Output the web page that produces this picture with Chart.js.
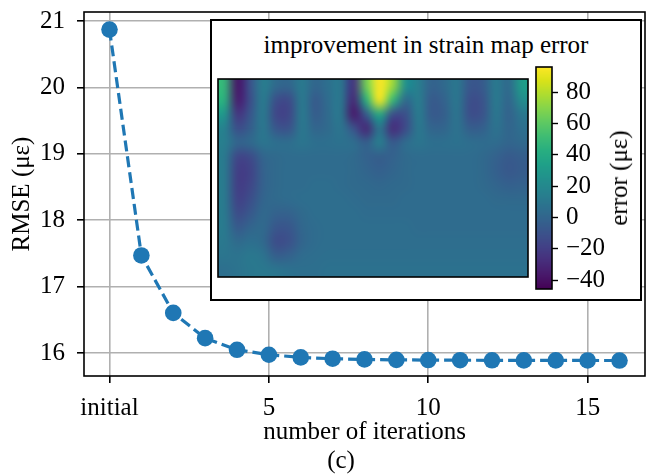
<!DOCTYPE html>
<html>
<head>
<meta charset="utf-8">
<script src="https://cdn.jsdelivr.net/npm/chart.js@4/dist/chart.umd.min.js"></script>
<style>
  html, body { margin: 0; padding: 0; background: #fff; }
  #fig { position: relative; width: 654px; height: 474px; overflow: hidden;
         font-family: 'Liberation Serif', 'Times New Roman', serif; color: #000; }
  #fig canvas { position: absolute; }
  #inset { position: absolute; left: 210px; top: 19px; width: 432px; height: 282px;
           box-sizing: border-box; border: 2px solid #000; background: #fff; }
  .txt { position: absolute; font-size: 25px; line-height: 30px; white-space: nowrap; }
</style>
</head>
<body>
<div id="fig">
  <canvas id="main" width="654" height="474" style="left:0;top:0"></canvas>
  <div id="inset"></div>
  <div class="txt" style="left:210px;width:432px;top:30px;text-align:center">improvement in strain map error</div>
  <canvas id="map" width="314" height="202" style="left:216px;top:77px"></canvas>
  <canvas id="cbar" width="90" height="246" style="left:528px;top:55px"></canvas>
  <div class="txt" style="left:619px;top:178px;transform:translate(-50%,-50%) rotate(-90deg)">error (με)</div>
  <div class="txt" style="left:341px;top:445px;transform:translateX(-50%)">(c)</div>
</div>
<script>
// RMSE after each reconstruction iteration (0 = initial estimate)
const iterations = [0, 1, 2, 3, 4, 5, 6, 7, 8, 9, 10, 11, 12, 13, 14, 15, 16];
const rmse = [20.87, 17.47, 16.605, 16.225, 16.05, 15.975, 15.935, 15.915, 15.905,
              15.898, 15.895, 15.893, 15.891, 15.89, 15.89, 15.889, 15.888];

const xTickValues = [0, 5, 10, 15];
const xTickLabels = ['initial', '5', '10', '15'];
const yTickValues = [16, 17, 18, 19, 20, 21];

// Improvement in strain map error (με), sampled on a 24 x 14 grid (rows top to bottom)
const errorMap = [
  [48, -38, -10, 14,   2,   0, 12,  0, 6, 10, -25,  65, 96,  75,  25, 14, -2,  2, 10,  -8,  -6, 12,   2, 32],
  [44, -35, -12, 13, -12, -14, 12, -6, 4, 10, -30,  45, 94,  50,   2, 14, -6, -2, 10, -12, -10, 12,   0, 22],
  [28, -24,  -8, 12, -16, -16, 12, -5, 3, 10, -36,  -5, 40, -12, -12, 13, -6, -4,  9, -12, -10, 10,  -2, 10],
  [16, -12,  -4, 11,  -8, -10, 11,  0, 3,  9, -10, -30, 10, -28, -14, 11,  0,  0,  8,  -4,  -3,  8,   0,  6],
  [14,   0,   2,  9,   6,   5,  9,  6, 6,  7,   5,  -4, 14,  -6,   4,  9,  6,  6,  7,   5,   4,  4,   0,  2],
  [12, -16, -14,  0,   3,   4,  4,  4, 4,  4,   3,  -2, -4,  -2,   3,  4,  4,  4,  4,   4,   2, -2,  -6, -4],
  [12, -20, -18, -2,   3,   4,  4,  4, 4,  4,   3,   0, -3,   0,   3,  4,  4,  4,  4,   4,   2, -3,  -7, -5],
  [12, -20, -16, -2,   3,   4,  4,  5, 5,  4,   3,   2,  1,   2,   3,  4,  4,  4,  4,   4,   3,  0,  -3, -2],
  [12, -18, -12,  0,   3,   4,  5,  5, 5,  5,   4,   3,  3,   3,   4,  4,  4,  4,  4,   4,   4,  3,   2,  2],
  [12, -13,  -7,  2,  -2,  -2,  3,  5, 5,  5,   5,   4,  4,   4,   4,  4,  4,  4,  4,   4,   4,  4,   4,  4],
  [12,  -6,   0,  3,  -8,  -8,  1,  4, 5,  5,   5,   5,  5,   5,   5,  4,  4,  4,  4,   4,   4,  4,   4,  4],
  [11,   3,   6,  2, -13, -11,  0,  4, 5,  5,   5,   5,  5,   5,   5,  5,  5,  5,  5,   5,   5,  5,   5,  5],
  [ 9,   8,  11,  8,  -4,  -2,  4,  5, 6,  6,   6,   6,  6,   6,   6,  6,  6,  6,  6,   6,   6,  6,   6,  6],
  [ 6,   8,  10, 11,   9,   7,  6,  6, 7,  7,   7,   7,  7,   7,   7,  7,  7,  7,  7,   7,   7,  7,   7,  7]
];
const errorMin = -45.75;
const errorMax = 96.2;
const cbTickValues = [-40, -20, 0, 20, 40, 60, 80];

const BLUE = '#1f77b4';
const GRID = '#b0b0b0';
const FONT = "'Liberation Serif', 'Times New Roman', serif";
Chart.defaults.font.family = FONT;
Chart.defaults.font.size = 25;
Chart.defaults.color = '#000';
Chart.defaults.animation = false;

// viridis colour map
const VIRIDIS = ['#440154', '#48186a', '#472d7b', '#424086', '#3b528b', '#33638d', '#2c728e',
  '#26828e', '#21918c', '#1fa088', '#28ae80', '#3fbc73', '#5ec962', '#84d44b', '#addc30',
  '#d8e219', '#fde725'].map(h => [parseInt(h.slice(1, 3), 16), parseInt(h.slice(3, 5), 16), parseInt(h.slice(5, 7), 16)]);
function viridis(t) {
  t = Math.min(1, Math.max(0, t));
  const p = t * (VIRIDIS.length - 1);
  const i = Math.min(VIRIDIS.length - 2, Math.floor(p));
  const f = p - i;
  return VIRIDIS[i].map((c, k) => Math.round(c + (VIRIDIS[i + 1][k] - c) * f));
}
const norm = v => (v - errorMin) / (errorMax - errorMin);

// keep tick labels from pushing the plot area inwards
function noScalePadding(s) {
  s.paddingTop = 0; s.paddingBottom = 0; s.paddingLeft = 0; s.paddingRight = 0;
}

// black frame around a chart area
function frame(lineWidth) {
  return {
    id: 'frame',
    afterDatasetsDraw(chart) {
      const { ctx, chartArea: a } = chart;
      ctx.save();
      ctx.strokeStyle = '#000';
      ctx.lineWidth = lineWidth;
      ctx.strokeRect(a.left, a.top, a.right - a.left, a.bottom - a.top);
      ctx.restore();
    }
  };
}

// ---- main convergence plot ----
new Chart(document.getElementById('main'), {
  type: 'line',
  data: {
    datasets: [{
      data: iterations.map((it, i) => ({ x: it, y: rmse[i] })),
      borderColor: BLUE,
      borderWidth: 3.2,
      borderDash: [11, 5],
      pointRadius: 8.3,
      pointBackgroundColor: BLUE,
      pointBorderWidth: 0,
      tension: 0
    }]
  },
  options: {
    responsive: false,
    layout: { padding: { top: 12, right: 9, left: 0, bottom: 0 } },
    plugins: { legend: { display: false }, tooltip: { enabled: false } },
    scales: {
      x: {
        type: 'linear', min: -0.8, max: 16.8,
        afterBuildTicks: s => { s.ticks = xTickValues.map(v => ({ value: v })); },
        afterFit: s => { s.height = 98; noScalePadding(s); },
        ticks: {
          padding: 10, maxRotation: 0,
          callback: v => xTickLabels[xTickValues.indexOf(v)]
        },
        grid: { color: GRID, lineWidth: 1.6, tickColor: '#000', tickLength: 7, tickWidth: 1.6 },
        border: { display: false },
        title: { display: true, text: 'number of iterations', padding: { top: 0, bottom: 27 } }
      },
      y: {
        min: 15.655, max: 21.135,
        afterBuildTicks: s => { s.ticks = yTickValues.map(v => ({ value: v })); },
        afterFit: s => { s.width = 84; noScalePadding(s); },
        ticks: { padding: 12 },
        grid: { color: GRID, lineWidth: 1.6, tickColor: '#000', tickLength: 7, tickWidth: 1.6 },
        border: { display: false },
        title: { display: true, text: 'RMSE (με)', padding: { top: 7, bottom: 0 } }
      }
    }
  },
  plugins: [frame(1.6)]
});

// ---- inset error map ----
const heatmapPlugin = {
  id: 'errorCells',
  beforeDatasetsDraw(chart) {
    const { ctx, scales: { x, y } } = chart;
    const rows = errorMap.length, cols = errorMap[0].length;
    const off = document.createElement('canvas');
    off.width = cols; off.height = rows;
    const octx = off.getContext('2d');
    const img = octx.createImageData(cols, rows);
    for (let r = 0; r < rows; r++) {
      for (let c = 0; c < cols; c++) {
        const [R, G, B] = viridis(norm(errorMap[r][c]));
        const k = (r * cols + c) * 4;
        img.data[k] = R; img.data[k + 1] = G; img.data[k + 2] = B; img.data[k + 3] = 255;
      }
    }
    octx.putImageData(img, 0, 0);
    const x0 = x.getPixelForValue(0), x1 = x.getPixelForValue(cols);
    const y0 = y.getPixelForValue(0), y1 = y.getPixelForValue(rows);
    ctx.save();
    ctx.imageSmoothingEnabled = true;
    ctx.imageSmoothingQuality = 'high';
    ctx.drawImage(off, 0, 0, cols, rows, x0, y0, x1 - x0, y1 - y0);
    ctx.restore();
  }
};
new Chart(document.getElementById('map'), {
  type: 'scatter',
  data: { datasets: [] },
  options: {
    responsive: false,
    layout: { padding: 2 },
    plugins: { legend: { display: false }, tooltip: { enabled: false } },
    scales: {
      x: { type: 'linear', min: 0, max: errorMap[0].length, display: false },
      y: { type: 'linear', min: 0, max: errorMap.length, reverse: true, display: false }
    }
  },
  plugins: [heatmapPlugin, frame(1.6)]
});

// ---- colour bar ----
const colorbarPlugin = {
  id: 'colorbar',
  beforeDatasetsDraw(chart) {
    const { ctx, chartArea: a, scales: { y } } = chart;
    ctx.save();
    for (let py = Math.floor(a.top); py < Math.ceil(a.bottom); py++) {
      const [R, G, B] = viridis(norm(y.getValueForPixel(py + 0.5)));
      ctx.fillStyle = `rgb(${R},${G},${B})`;
      ctx.fillRect(a.left, py, a.right - a.left, 1);
    }
    ctx.restore();
  }
};
new Chart(document.getElementById('cbar'), {
  type: 'scatter',
  data: { datasets: [] },
  options: {
    responsive: false,
    layout: { padding: { left: 8, top: 12, bottom: 12, right: 0 } },
    plugins: { legend: { display: false }, tooltip: { enabled: false } },
    scales: {
      x: { display: false },
      y: {
        position: 'right', min: errorMin, max: errorMax,
        afterBuildTicks: s => { s.ticks = cbTickValues.map(v => ({ value: v })); },
        afterFit: s => { s.width = 66; noScalePadding(s); },
        ticks: { padding: 8, callback: v => (v < 0 ? '\u2212' + Math.abs(v) : String(v)) },
        grid: { drawOnChartArea: false, tickColor: '#000', tickLength: 6, tickWidth: 1.4 },
        border: { display: false }
      }
    }
  },
  plugins: [colorbarPlugin, frame(1.6)]
});
</script>
</body>
</html>
